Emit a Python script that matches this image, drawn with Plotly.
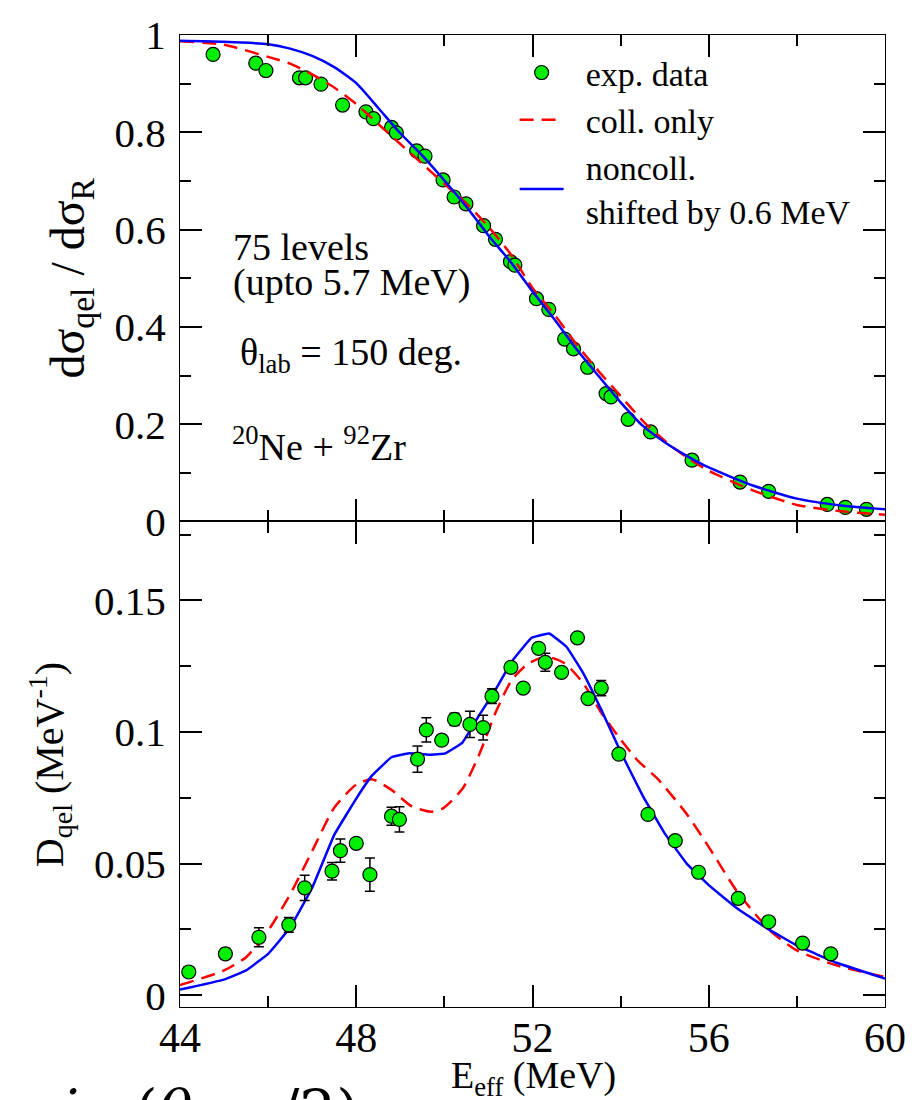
import plotly.graph_objects as go
from plotly.subplots import make_subplots

# ---------------- data ----------------
# top panel: quasi-elastic / Rutherford ratio
exp_E_top = [44.75, 45.72, 45.95, 46.71, 46.85, 47.20, 47.69, 48.22, 48.39, 48.80, 48.91,
             49.37, 49.56, 49.97, 50.22, 50.49, 50.89, 51.16, 51.50, 51.60, 52.09, 52.37,
             52.73, 52.93, 53.25, 53.67, 53.78, 54.17, 54.68, 55.62, 56.71, 57.36, 58.69,
             59.10, 59.58]
exp_R_top = [0.960, 0.942, 0.927, 0.912, 0.912, 0.899, 0.856, 0.842, 0.828, 0.810, 0.799,
             0.762, 0.751, 0.702, 0.667, 0.653, 0.608, 0.580, 0.534, 0.527, 0.458, 0.436,
             0.375, 0.355, 0.317, 0.263, 0.256, 0.210, 0.184, 0.126, 0.081, 0.062, 0.035,
             0.029, 0.025]

coll_E_top = [44, 45, 46, 46.5, 47, 47.5, 48, 48.5, 49, 49.5, 50, 50.5, 51, 51.5, 52, 52.5,
              53, 53.5, 54, 54.5, 55, 55.5, 56, 57, 58, 59, 60]
coll_R_top = [0.987, 0.980, 0.955, 0.941, 0.919, 0.892, 0.858, 0.817, 0.776, 0.735, 0.694,
              0.654, 0.606, 0.550, 0.480, 0.425, 0.364, 0.309, 0.258, 0.207, 0.166, 0.132,
              0.104, 0.064, 0.034, 0.021, 0.014]

nonc_E_top = [44, 45, 46, 46.5, 47, 47.5, 48, 48.5, 49, 49.5, 50, 50.5, 51, 51.5, 52, 52.5,
              53, 53.5, 54, 54.5, 55, 55.5, 56, 57, 58, 59, 60]
nonc_R_top = [0.988, 0.986, 0.981, 0.972, 0.957, 0.934, 0.901, 0.850, 0.798, 0.752, 0.701,
              0.647, 0.588, 0.534, 0.473, 0.415, 0.354, 0.299, 0.245, 0.197, 0.163, 0.135,
              0.111, 0.074, 0.047, 0.033, 0.025]

# bottom panel: barrier distribution
exp_E_bot = [44.20, 45.03, 45.79, 46.47, 46.83, 47.45, 47.64, 48.00, 48.31, 48.80, 48.98,
             49.39, 49.59, 49.94, 50.23, 50.58, 50.88, 51.08, 51.51, 51.79, 52.14, 52.29,
             52.66, 53.02, 53.26, 53.56, 53.96, 54.62, 55.24, 55.77, 56.67, 57.36, 58.13,
             58.77]
exp_D_bot = [0.0088, 0.0157, 0.0220, 0.0267, 0.0408, 0.0471, 0.0549, 0.0577, 0.0458, 0.0680,
             0.0668, 0.0897, 0.1008, 0.0969, 0.1048, 0.1029, 0.1017, 0.1136, 0.1246, 0.1167,
             0.1318, 0.1265, 0.1227, 0.1358, 0.1127, 0.1167, 0.0916, 0.0687, 0.0587, 0.0467,
             0.0368, 0.0279, 0.0198, 0.0157]
exp_dD_bot = [0.0020, 0.0020, 0.0036, 0.0028, 0.0048, 0.0033, 0.0044, 0.0015, 0.0063, 0.0034,
              0.0048, 0.0050, 0.0046, 0.0015, 0.0023, 0.0050, 0.0047, 0.0028, 0.0015, 0.0015,
              0.0015, 0.0034, 0.0015, 0.0015, 0.0015, 0.0029, 0.0015, 0.0015, 0.0015, 0.0015,
              0.0015, 0.0015, 0.0015, 0.0015]

coll_E_bot = [44, 45, 45.5, 46, 46.5, 47, 47.5, 48, 48.36, 48.8, 49.26, 49.7, 49.96, 50.41,
              50.78, 51.16, 51.53, 51.91, 52.32, 52.73, 53.15, 53.56, 53.94, 54.39, 54.84,
              55.52, 56.02, 56.64, 57.39, 58.01, 58.90, 59.65, 60.0]
coll_D_bot = [0.0038, 0.0094, 0.0144, 0.0245, 0.0383, 0.0548, 0.0712, 0.0800, 0.0820, 0.0780,
              0.0717, 0.0697, 0.0709, 0.0784, 0.0910, 0.1073, 0.1198, 0.1261, 0.1286, 0.1261,
              0.1186, 0.1073, 0.0985, 0.0891, 0.0822, 0.0684, 0.0558, 0.0395, 0.0245, 0.0169,
              0.0113, 0.0082, 0.0069]

nonc_E_bot = [44, 45, 45.5, 46, 46.5, 47, 47.5, 48, 48.36, 48.8, 49.2, 49.65, 50.02, 50.41,
              50.78, 51.16, 51.53, 51.98, 52.38, 52.77, 53.15, 53.56, 54.0, 54.5, 55.0,
              55.5, 56.0, 56.64, 57.39, 58.01, 58.90, 60.0]
nonc_D_bot = [0.0021, 0.0059, 0.0094, 0.0157, 0.0257, 0.0408, 0.0609, 0.0747, 0.0835, 0.0904,
              0.0919, 0.0914, 0.0919, 0.0960, 0.1061, 0.1161, 0.1268, 0.1358, 0.1374, 0.1324,
              0.1224, 0.1085, 0.0925, 0.0758, 0.0615, 0.0500, 0.0418, 0.0330, 0.0247, 0.0188,
              0.0123, 0.0063]

x_ticks = [44, 48, 52, 56, 60]
legend_names = ["exp. data", "coll. only", ["noncoll.", "shifted by 0.6 MeV"]]

# ---------------- styling ----------------
FONT = "Liberation Serif"
W, H = 918, 1100
ML, MR, MT, MB = 180, 28, 26, 93
PW, PH = W - ML - MR, H - MT - MB
PAD = "&nbsp;&nbsp;"


def px_x(p):
    return (p - ML) / PW


def px_y(p):
    return (H - MB - p) / PH


def leg(name):
    if isinstance(name, list):
        return "<br>".join(PAD + n for n in name)
    return PAD + name


fig = make_subplots(rows=2, cols=1, shared_xaxes=True, vertical_spacing=0,
                    row_heights=[0.5005, 0.4995])

green = "#00ee00"
marker = dict(color=green, size=14, line=dict(color="black", width=1.2))
red_line = dict(color="#ff0000", width=2.5, dash="14px,8px", shape="spline", smoothing=0.6)

fig.add_trace(go.Scatter(x=exp_E_top, y=exp_R_top, mode="markers", marker=marker,
                         name=leg(legend_names[0]), showlegend=True), row=1, col=1)
fig.add_trace(go.Scatter(x=coll_E_top, y=coll_R_top, mode="lines", line=red_line,
                         name=leg(legend_names[1]), showlegend=True), row=1, col=1)
fig.add_trace(go.Scatter(x=nonc_E_top, y=nonc_R_top, mode="lines",
                         line=dict(color="#0000ff", width=2.5, shape="spline", smoothing=0.6),
                         name=leg(legend_names[2]), showlegend=True), row=1, col=1)

fig.add_trace(go.Scatter(x=coll_E_bot, y=coll_D_bot, mode="lines", line=red_line,
                         showlegend=False), row=2, col=1)
fig.add_trace(go.Scatter(x=nonc_E_bot, y=nonc_D_bot, mode="lines",
                         line=dict(color="#0000ff", width=2.5, shape="spline", smoothing=0.25),
                         showlegend=False), row=2, col=1)
fig.add_trace(go.Scatter(x=exp_E_bot, y=exp_D_bot, mode="markers", marker=marker,
                         error_y=dict(type="data", array=exp_dD_bot, color="black",
                                      thickness=1.5, width=5),
                         showlegend=False), row=2, col=1)

axis_common = dict(showline=True, linecolor="black", linewidth=1.3, mirror="allticks",
                   ticks="inside", ticklen=22, tickwidth=1.5, tickcolor="black",
                   showgrid=False, zeroline=False)

fig.update_xaxes(**axis_common, range=[44, 60], tickvals=x_ticks,
                 minor=dict(dtick=2, tick0=44, ticks="inside", ticklen=11, tickwidth=1.5,
                            tickcolor="black", showgrid=False))
fig.update_xaxes(tickfont=dict(family=FONT, size=42, color="black"), ticklabelstandoff=-7,
                 row=2, col=1)
fig.update_yaxes(**axis_common)
fig.update_yaxes(range=[0, 1], dtick=0.2, tick0=0,
                 minor=dict(dtick=0.1, tick0=0, ticks="inside", ticklen=11, tickwidth=1.5,
                            tickcolor="black", showgrid=False),
                 tickfont=dict(family=FONT, size=41, color="black"), ticklabelstandoff=5,
                 row=1, col=1)
fig.update_yaxes(range=[-0.0045, 0.18], dtick=0.05, tick0=0,
                 minor=dict(dtick=0.025, tick0=0, ticks="inside", ticklen=11, tickwidth=1.5,
                            tickcolor="black", showgrid=False),
                 tickfont=dict(family=FONT, size=41, color="black"), ticklabelstandoff=5,
                 row=2, col=1)

txt = dict(family=FONT, size=38, color="black")
ann = [
    dict(text="75 levels", x=45.16, y=0.565, xref="x", yref="y", xanchor="left",
         yanchor="middle", showarrow=False, font=txt),
    dict(text="(upto 5.7 MeV)", x=45.16, y=0.492, xref="x", yref="y", xanchor="left",
         yanchor="middle", showarrow=False, font=txt),
    dict(text="θ<sub>lab</sub> = 150 deg.", x=45.31, y=0.343, xref="x", yref="y",
         xanchor="left", yanchor="middle", showarrow=False, font=txt),
    dict(text="<sup>20</sup>Ne + <sup>92</sup>Zr", x=45.13, y=0.160, xref="x", yref="y",
         xanchor="left", yanchor="middle", showarrow=False, font=txt),
    # axis titles
    dict(text="dσ<sub>qel</sub> / dσ<sub>R</sub>", x=px_x(70), y=px_y(271), xref="paper",
         yref="paper", xanchor="center", yanchor="middle", textangle=-90, showarrow=False,
         font=dict(family=FONT, size=48, color="black")),
    dict(text="D<sub>qel</sub> (MeV<sup>-1</sup>)", x=px_x(49), y=px_y(762), xref="paper",
         yref="paper", xanchor="center", yanchor="middle", textangle=-90, showarrow=False,
         font=dict(family=FONT, size=40, color="black")),
    dict(text="E<sub>eff</sub> (MeV)", x=px_x(536), y=px_y(1079), xref="paper",
         yref="paper", xanchor="center", yanchor="middle", showarrow=False,
         font=dict(family=FONT, size=38, color="black")),
    # partially visible caption line below the figure
    dict(text="<i>sin</i> (<i>θ</i><sub><i>c.m.</i></sub>/2)", x=px_x(28), y=px_y(1076),
         xref="paper", yref="paper", xanchor="left", yanchor="top", showarrow=False,
         font=dict(family="DejaVu Serif", size=58, color="black")),
]

fig.update_layout(
    width=W, height=H,
    margin=dict(l=ML, r=MR, t=MT, b=MB),
    paper_bgcolor="white", plot_bgcolor="white",
    annotations=ann,
    showlegend=True,
    legend=dict(x=px_x(517), y=px_y(35), xanchor="left", yanchor="top",
                bgcolor="rgba(0,0,0,0)", font=dict(family=FONT, size=34, color="black"),
                itemwidth=44, tracegroupgap=0, valign="middle"),
)

fig.write_html("out.html")
